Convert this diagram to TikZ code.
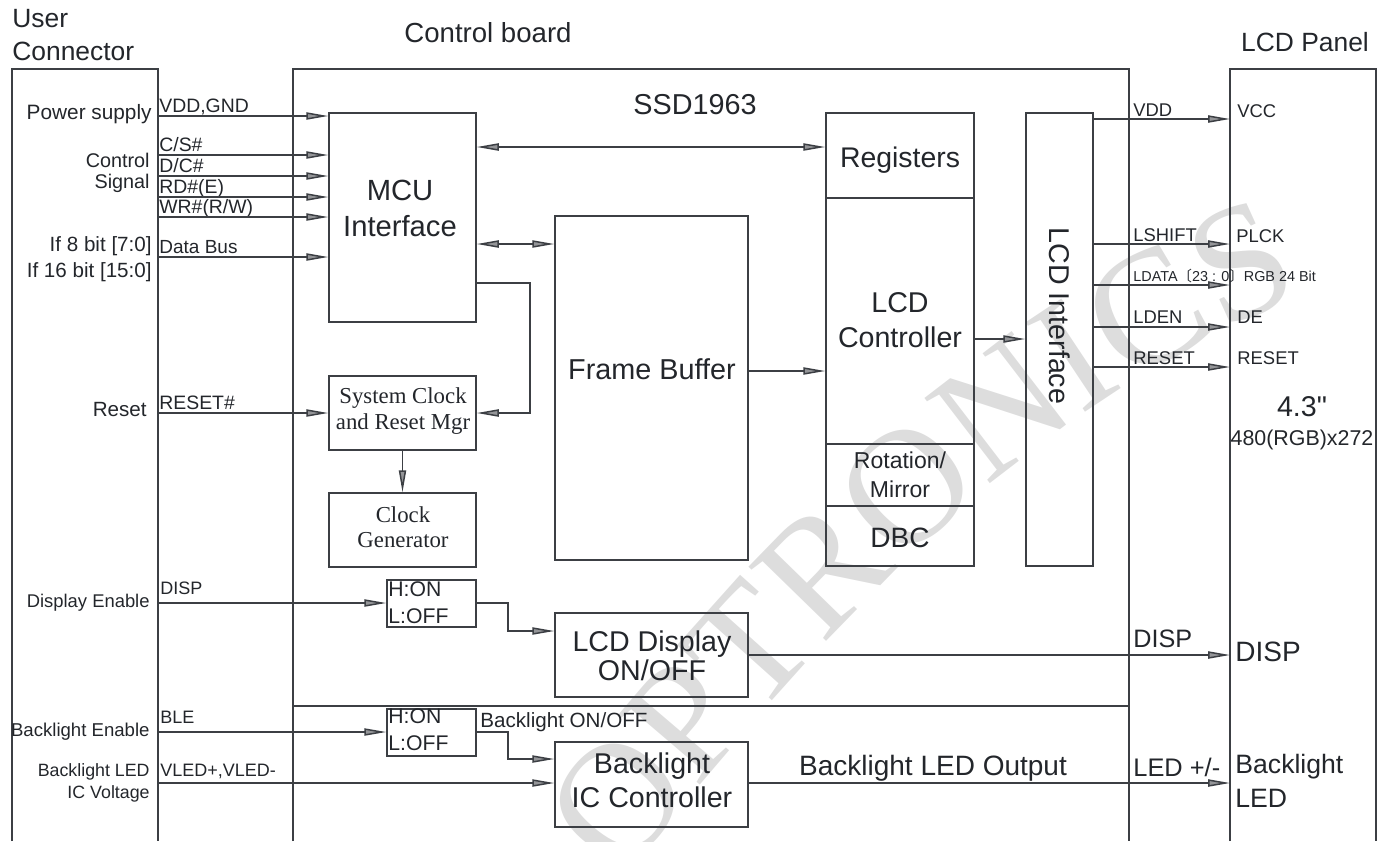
\documentclass[tikz,border=0pt]{standalone}
\usepackage{fontspec}
\setmainfont{Liberation Sans}
\newfontfamily\serifx{Liberation Serif}
\newfontfamily\plainsf{Liberation Sans}[Ligatures=TeXOff]
\newfontfamily\cjk{Noto Sans CJK SC}
\usetikzlibrary{arrows.meta,fit,decorations.text}
\definecolor{lc}{HTML}{3C3F44}
\definecolor{tc}{HTML}{23262B}
\definecolor{wm}{HTML}{DDDDDD}
\newcommand\fsz[1]{\fontsize{#1}{#1}\selectfont}
\tikzset{
  ln/.style={draw=lc, line width=0.75pt},
  arr/.style={ln,->},
  darr/.style={ln,<->},
  blk/.style={draw=lc, line width=0.75pt, inner sep=0pt},
  lb/.style={inner sep=0pt, text=tc, anchor=base},
  lbw/.style={lb, anchor=base west},
  lbe/.style={lb, anchor=base east}
}
\begin{document}
\begin{tikzpicture}[x=0.5pt,y=-0.5pt,
  >={Triangle[length=11pt,width=3.6pt,fill=lc!55!white]}]
\useasboundingbox (0,0) rectangle (1390,841);

% watermark
\begin{scope}
\clip (0,0) rectangle (1390,841);
\path[decorate, decoration={text along path, text align=fit to path,
  text={|\serifx\fontsize{82}{82}\selectfont\color{wm}|OPTRONICS}}]
  (620,880) .. controls (790,680) and (980,430) .. (1290,300);
\end{scope}

% frames
\draw[ln] (12,841) -- (12,69) -- (158,69) -- (158,841);
\draw[ln] (293,841) -- (293,69) -- (1129,69) -- (1129,841);
\draw[ln] (293,706) -- (1129,706);
\draw[ln] (1230,841) -- (1230,69) -- (1376,69) -- (1376,841);

% titles
\node[lbw, font=\fsz{13.2}] (tuser) at (12,27) {User};
\node[lbw, font=\fsz{13.2}] (tconn) at (12,60) {Connector};
\node[lb, font=\fsz{13.8}] (tboard) at (488,42) {Control board};
\node[lb, font=\fsz{13.2}] (tpanel) at (1305,51) {LCD Panel};

% blocks
\node[blk, fit={(329,113) (476,322)}] (mcu) {};
\node[blk, fit={(329,376) (476,450)}] (sysclk) {};
\node[blk, fit={(329,493) (476,567)}] (clkgen) {};
\node[blk, fit={(555,216) (748,560)}] (frame) {};
\node[blk, fit={(826,113) (974,198)}] (regs) {};
\node[blk, fit={(826,198) (974,444)}] (lcdc) {};
\node[blk, fit={(826,444) (974,506)}] (rot) {};
\node[blk, fit={(826,506) (974,566)}] (dbc) {};
\node[blk, fit={(1026,113) (1093,566)}] (lcdif) {};
\node[blk, fit={(387,580) (476,627)}] (hon1) {};
\node[blk, fit={(387,709) (476,756)}] (hon2) {};
\node[blk, fit={(555,613) (748,697)}] (lcddisp) {};
\node[blk, fit={(555,742) (748,827)}] (blic) {};

% block texts
\node[lb, font=\fsz{14.6}] (mcua) at (400,200) {MCU};
\node[lb, font=\fsz{14.6}] (mcub) at (400,236) {Interface};
\node[lb, font=\fsz{14.4}] (ssd) at (695,114) {SSD1963};
\node[lb, font=\fsz{14.2}] (regt) at (900,167) {Registers};
\node[lb, font=\fsz{14.3}] (lcdca) at (900,312) {LCD};
\node[lb, font=\fsz{14.3}] (lcdcb) at (900,347) {Controller};
\node[lb, font=\fsz{11.5}] (rota) at (900,468) {Rotation/};
\node[lb, font=\fsz{11.5}] (rotb) at (900,497) {Mirror};
\node[lb, font=\fsz{14}] (dbct) at (900,547) {DBC};
\node[lb, font=\fsz{14.4}] (framet) at (652,379) {Frame Buffer};
\node[inner sep=0pt, text=tc, font=\fsz{14.3}, rotate=-90] (lift) at (1060,316) {LCD Interface};
\node[lb, font=\serifx\fsz{11.4}] (sysa) at (403,403) {System Clock};
\node[lb, font=\serifx\fsz{11.4}] (sysb) at (403,429) {and Reset Mgr};
\node[lb, font=\serifx\fsz{11.4}] (cga) at (403,522) {Clock};
\node[lb, font=\serifx\fsz{11.4}] (cgb) at (403,547) {Generator};
\node[lbw, font=\fsz{10.6}] (h1a) at (388,596) {H:ON};
\node[lbw, font=\fsz{10.6}] (h1b) at (388,623) {L:OFF};
\node[lbw, font=\fsz{10.6}] (h2a) at (388,723) {H:ON};
\node[lbw, font=\fsz{10.6}] (h2b) at (388,750) {L:OFF};
\node[lb, font=\fsz{14.3}] (lda) at (652,651) {LCD Display};
\node[lb, font=\fsz{14.3}] (ldb) at (652,680) {ON/OFF};
\node[lb, font=\fsz{14.3}] (bla) at (652,773) {Backlight};
\node[lb, font=\fsz{14.3}] (blb) at (652,807) {IC Controller};
\node[lbw, font=\fsz{10.3}] (blon) at (480,727) {Backlight ON/OFF};
\node[lb, font=\fsz{14}] (blout) at (933,775) {Backlight LED Output};
\node[lb, font=\plainsf\fsz{14.3}] (size) at (1302,416) {4.3"};
\node[lb, font=\fsz{10.7}] (res) at (1302,445) {480(RGB)x272};

% left labels
\node[lbe, font=\fsz{10.4}] (lpwr) at (152,119) {Power supply};
\node[lbe, font=\fsz{9.9}] (lctl) at (150,167) {Control};
\node[lbe, font=\fsz{9.9}] (lsig) at (150,188) {Signal};
\node[lbe, font=\fsz{10.3}] (l8) at (152,251) {If 8 bit [7:0]};
\node[lbe, font=\fsz{10.3}] (l16) at (152,277) {If 16 bit [15:0]};
\node[lbe, font=\fsz{10.3}] (lrst) at (147,416) {Reset};
\node[lbe, font=\fsz{9.2}] (lde) at (150,607) {Display Enable};
\node[lbe, font=\fsz{9.3}] (lben) at (150,736) {Backlight Enable};
\node[lbe, font=\fsz{8.9}] (lbla) at (150,776) {Backlight LED};
\node[lbe, font=\fsz{8.9}] (lblb) at (150,798) {IC Voltage};

% input coordinates
\coordinate (pwr) at (158,116);
\coordinate (cs) at (158,155);
\coordinate (dc) at (158,176);
\coordinate (rd) at (158,197);
\coordinate (wr) at (158,217);
\coordinate (db) at (158,257);
\coordinate (rst) at (158,413);
\coordinate (disp) at (158,603);
\coordinate (ble) at (158,732);
\coordinate (vled) at (158,783);

% input signal labels
\node[lbw, font=\fsz{9.7}] (spwr) at (159,112) {VDD,GND};
\node[lbw, font=\fsz{9.7}] (scs) at (159,151) {C/S\#};
\node[lbw, font=\fsz{9.7}] (sdc) at (159,172) {D/C\#};
\node[lbw, font=\fsz{9.7}] (srd) at (159,193) {RD\#(E)};
\node[lbw, font=\fsz{9.7}] (swr) at (159,213) {WR\#(R/W)};
\node[lbw, font=\fsz{9.5}] (sdb) at (159,253) {Data Bus};
\node[lbw, font=\fsz{9.7}] (srst) at (159,409) {RESET\#};
\node[lbw, font=\fsz{9}] (sdisp) at (160,594) {DISP};
\node[lbw, font=\fsz{9}] (sble) at (160,723) {BLE};
\node[lbw, font=\fsz{9}] (svled) at (160,776) {VLED+,VLED-};

% input connectors
\foreach \s in {pwr,cs,dc,rd,wr,db}
  \draw[arr] (\s) -- (\s -| mcu.west);
\draw[arr] (rst) -- (rst -| sysclk.west);
\draw[arr] (disp) -- (disp -| hon1.west);
\draw[arr] (ble) -- (ble -| hon2.west);
\draw[arr] (vled) -- (vled -| blic.west);

% internal connectors
\draw[darr] (mcu.east |- 0,147) -- (regs.west |- 0,147);
\draw[darr] (mcu.east |- 0,244) -- (frame.west |- 0,244);
\draw[arr] (mcu.east |- 0,283) -| (530,413) -- (sysclk.east |- 0,413);
\draw[arr] (sysclk.south) -- (clkgen.north);
\draw[arr] (frame.east |- 0,371) -- (lcdc.west |- 0,371);
\draw[arr] (lcdc.east |- 0,339) -- (lcdif.west |- 0,339);
\draw[arr] (hon1.east |- disp) -| (508,631) -- (lcddisp.west |- 0,631);
\draw[arr] (hon2.east |- ble) -| (508,759) -- (blic.west |- 0,759);

% panel coordinates
\coordinate (vcc) at (1230,119);
\coordinate (plck) at (1230,244);
\coordinate (ldat) at (1230,285);
\coordinate (de) at (1230,327);
\coordinate (prst) at (1230,367);
\coordinate (pdisp) at (1230,655);
\coordinate (pled) at (1230,783);

\draw[arr] (lcdif.east |- vcc) -- (vcc);
\draw[arr] (lcdif.east |- plck) -- (plck);
\draw[arr] (lcdif.east |- ldat) -- (ldat);
\draw[arr] (lcdif.east |- de) -- (de);
\draw[arr] (lcdif.east |- prst) -- (prst);
\draw[arr] (lcddisp.east |- pdisp) -- (pdisp);
\draw[arr] (blic.east |- pled) -- (pled);

% output labels
\node[lbw, font=\fsz{9.2}] (ovdd) at (1133,116) {VDD};
\node[lbw, font=\fsz{9.2}] (olsh) at (1133,241) {LSHIFT};
\node[lbw, font=\fsz{7.2}] (olda) at (1133,281) {LDATA{\cjk 〔}23 : 0{\cjk 〕}RGB 24 Bit};
\node[lbw, font=\fsz{9.2}] (olden) at (1133,323) {LDEN};
\node[lbw, font=\fsz{9.2}] (orst) at (1133,364) {RESET};
\node[lbw, font=\fsz{12.6}] (odisp) at (1133,647) {DISP};
\node[lbw, font=\fsz{12.7}] (oled) at (1133,776) {LED +/-};

% panel labels
\node[lbw, font=\fsz{9.2}] (pvcc) at (1237,117) {VCC};
\node[lbw, font=\fsz{9.2}] (pplck) at (1236,242) {PLCK};
\node[lbw, font=\fsz{9.2}] (pde) at (1237,323) {DE};
\node[lbw, font=\fsz{9.2}] (prest) at (1237,364) {RESET};
\node[lbw, font=\fsz{14}] (pdispt) at (1235,661) {DISP};
\node[lbw, font=\fsz{13.3}] (pbla) at (1235,773) {Backlight};
\node[lbw, font=\fsz{13.3}] (pblb) at (1235,807) {LED};
\end{tikzpicture}
\end{document}
